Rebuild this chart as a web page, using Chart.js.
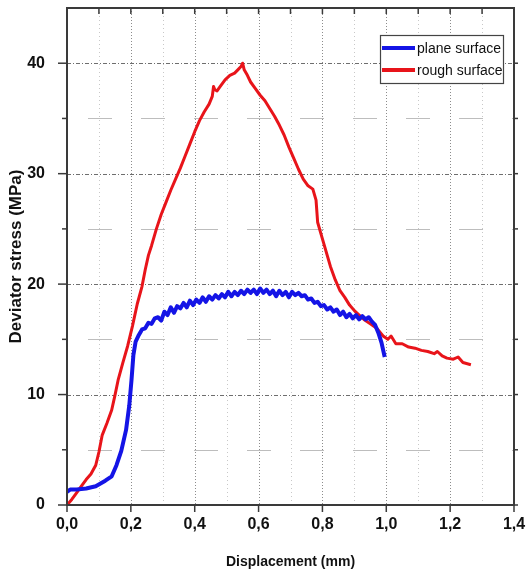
<!DOCTYPE html>
<html>
<head>
<meta charset="utf-8">
<script src="https://cdn.jsdelivr.net/npm/chart.js@4.4.0/dist/chart.umd.min.js"></script>
<style>
  html, body { margin: 0; padding: 0; background: #fff; }
</style>
</head>
<body>
<canvas id="stressChart" width="531" height="577"></canvas>
<script>
// Deviator stress vs displacement, two surface conditions

var seriesNames = ["plane surface", "rough surface"];

// plane surface
var planeX = [0.000, 0.010, 0.030, 0.060, 0.090, 0.120, 0.140, 0.155, 0.170, 0.185,
              0.195, 0.202, 0.208, 0.215, 0.225, 0.235, 0.245, 0.255, 0.265, 0.275,
              0.285, 0.295, 0.305, 0.315, 0.325, 0.335, 0.345, 0.355, 0.365, 0.375,
              0.385, 0.395, 0.405, 0.415, 0.425, 0.435, 0.445, 0.455, 0.465, 0.475,
              0.485, 0.495, 0.505, 0.515, 0.525, 0.535, 0.545, 0.555, 0.565, 0.575,
              0.585, 0.595, 0.605, 0.615, 0.625, 0.635, 0.645, 0.655, 0.665, 0.675,
              0.685, 0.695, 0.705, 0.715, 0.725, 0.735, 0.745, 0.755, 0.765, 0.775,
              0.785, 0.795, 0.805, 0.815, 0.825, 0.835, 0.845, 0.855, 0.865, 0.875,
              0.885, 0.895, 0.905, 0.915, 0.925, 0.935, 0.945, 0.955, 0.965, 0.975,
              0.985, 0.995];
var planeY = [1.2, 1.4, 1.4, 1.5, 1.7, 2.2, 2.6, 3.6, 4.9, 6.8,
              9.0, 11.3, 13.6, 14.8, 15.4, 15.9, 16.0, 16.5, 16.4, 16.9,
              17.0, 16.7, 17.5, 17.2, 17.9, 17.4, 18.0, 17.8, 18.3, 17.9,
              18.5, 18.1, 18.6, 18.3, 18.8, 18.4, 18.9, 18.6, 19.0, 18.7,
              19.1, 18.8, 19.3, 18.9, 19.3, 19.0, 19.4, 19.1, 19.5, 19.2,
              19.5, 19.1, 19.6, 19.2, 19.5, 19.1, 19.4, 18.9, 19.4, 19.0,
              19.3, 18.8, 19.3, 19.0, 19.2, 18.9, 19.0, 18.6, 18.7, 18.3,
              18.4, 18.0, 18.1, 17.7, 17.9, 17.5, 17.7, 17.2, 17.5, 17.0,
              17.3, 16.9, 17.2, 16.8, 17.1, 16.8, 17.0, 16.6, 16.3, 15.6,
              14.7, 13.4];

// rough surface
var roughX = [0.000, 0.015, 0.030, 0.045, 0.060, 0.075, 0.090, 0.100, 0.110, 0.125,
              0.140, 0.150, 0.160, 0.175, 0.190, 0.205, 0.220, 0.235, 0.245, 0.255,
              0.265, 0.280, 0.295, 0.310, 0.325, 0.340, 0.355, 0.370, 0.385, 0.400,
              0.415, 0.430, 0.445, 0.455, 0.459, 0.463, 0.470, 0.480, 0.495, 0.510,
              0.525, 0.535, 0.545, 0.550, 0.555, 0.565, 0.575, 0.590, 0.605, 0.620,
              0.635, 0.650, 0.665, 0.680, 0.695, 0.710, 0.725, 0.740, 0.755, 0.770,
              0.780, 0.785, 0.795, 0.805, 0.815, 0.825, 0.840, 0.855, 0.870, 0.885,
              0.900, 0.915, 0.930, 0.950, 0.970, 0.990, 1.005, 1.015, 1.030, 1.050,
              1.070, 1.090, 1.110, 1.130, 1.150, 1.160, 1.175, 1.190, 1.210, 1.225,
              1.240, 1.265];
var roughY = [0.0, 0.5, 1.1, 1.7, 2.3, 2.8, 3.6, 4.8, 6.3, 7.4,
              8.6, 9.9, 11.3, 12.9, 14.4, 16.2, 18.2, 19.8, 21.3, 22.6,
              23.5, 25.0, 26.3, 27.4, 28.5, 29.5, 30.5, 31.6, 32.7, 33.8,
              34.8, 35.6, 36.3, 37.0, 37.9, 37.6, 37.5, 37.9, 38.5, 38.9,
              39.1, 39.4, 39.7, 40.0, 39.4, 38.9, 38.3, 37.7, 37.1, 36.6,
              35.9, 35.2, 34.4, 33.5, 32.4, 31.4, 30.4, 29.5, 28.9, 28.6,
              27.6, 25.6, 24.6, 23.6, 22.6, 21.6, 20.4, 19.4, 18.8, 18.1,
              17.6, 17.2, 16.8, 16.4, 16.0, 15.3, 15.0, 15.3, 14.6, 14.6,
              14.3, 14.2, 14.0, 13.9, 13.7, 13.9, 13.5, 13.3, 13.2, 13.4,
              12.9, 12.7];

// axis ranges and labelled ticks
var xMin = 0, xMax = 1.4, xStep = 0.1;
var yMin = 0, yMax = 45, yStep = 5;
var xLabelTicks = [0, 0.2, 0.4, 0.6, 0.8, 1.0, 1.2, 1.4];
var yLabelTicks = [0, 10, 20, 30, 40];

var sansFont = '"Liberation Sans", Arial, sans-serif';

function toPoints(xs, ys) {
    return xs.map(function (x, i) { return { x: x, y: ys[i] }; });
}

function isLabelled(list, value) {
    return list.some(function (v) { return Math.abs(v - value) < 1e-6; });
}

function strokeLine(ctx, x1, y1, x2, y2) {
    ctx.beginPath();
    ctx.moveTo(x1, y1);
    ctx.lineTo(x2, y2);
    ctx.stroke();
}

// grid, frame, tick marks and the boxed legend
var plotDecor = {
    id: "plotDecor",
    beforeDatasetsDraw: function (chart) {
        var ctx = chart.ctx, a = chart.chartArea;
        var xs = chart.scales.x, ys = chart.scales.y;
        ctx.save();
        ctx.lineWidth = 1;

        // vertical dotted lines every 0.1
        for (var i = 1; i < 14; i++) {
            var px = Math.round(xs.getPixelForValue(i / 10)) + 0.5;
            var major = i % 2 === 0;
            ctx.strokeStyle = major ? "#8c8c8c" : "#c8c8c8";
            ctx.setLineDash(major ? [1, 2] : [1, 3]);
            strokeLine(ctx, px, a.top, px, a.bottom);
        }

        // horizontal lines: dash-dot at tens, long dashes at fives
        for (var v = 5; v < yMax; v += 5) {
            var py = Math.round(ys.getPixelForValue(v)) + 0.5;
            if (v % 10 === 0) {
                ctx.strokeStyle = "#6e6e6e";
                ctx.setLineDash([4, 2, 1, 2]);
                ctx.lineDashOffset = 0;
            } else {
                ctx.strokeStyle = "#bdbdbd";
                ctx.setLineDash([24, 29]);
                ctx.lineDashOffset = 32;
            }
            strokeLine(ctx, a.left, py, a.right, py);
        }
        ctx.restore();
    },
    afterDatasetsDraw: function (chart) {
        var ctx = chart.ctx, a = chart.chartArea;
        var xs = chart.scales.x, ys = chart.scales.y;
        ctx.save();
        ctx.setLineDash([]);
        ctx.strokeStyle = "#3a3a3a";

        // tick marks
        ctx.lineWidth = 1.5;
        for (var i = 0; i <= 14; i++) {
            var px = xs.getPixelForValue(i / 10);
            if (i % 2 === 0) strokeLine(ctx, px, a.bottom, px, a.bottom + 7);
            strokeLine(ctx, px, a.top, px, a.top + 6);
        }
        for (var v = 0; v < yMax; v += 5) {
            var py = ys.getPixelForValue(v);
            var len = v % 10 === 0 ? 9 : 5;
            strokeLine(ctx, a.left - len, py, a.left, py);
            strokeLine(ctx, a.right, py, a.right + 4, py);
        }

        // frame
        ctx.lineWidth = 2;
        ctx.strokeRect(a.left, a.top, a.right - a.left, a.bottom - a.top);
        ctx.restore();
    },
    afterDraw: function (chart) {
        var ctx = chart.ctx, a = chart.chartArea;
        var bx = a.right - 134, by = a.top + 27, bw = 123, bh = 48;
        ctx.save();
        ctx.fillStyle = "#ffffff";
        ctx.fillRect(bx, by, bw, bh);
        ctx.strokeStyle = "#444444";
        ctx.lineWidth = 1.2;
        ctx.strokeRect(bx + 0.5, by + 0.5, bw, bh);

        ctx.font = "14px " + sansFont;
        ctx.textBaseline = "middle";
        chart.data.datasets.forEach(function (ds, k) {
            var ry = by + 13 + k * 22;
            ctx.strokeStyle = ds.borderColor;
            ctx.lineWidth = 4;
            strokeLine(ctx, bx + 2, ry, bx + 35, ry);
            ctx.fillStyle = "#111111";
            ctx.fillText(ds.label, bx + 37, ry + 1);
        });
        ctx.restore();
    }
};

var ctx = document.getElementById("stressChart").getContext("2d");

var stressChart = new Chart(ctx, {
    type: "line",
    data: {
        datasets: [
            {
                label: seriesNames[0],
                data: toPoints(planeX, planeY),
                borderColor: "#1414e6",
                borderWidth: 4,
                borderJoinStyle: "round",
                pointRadius: 0,
                tension: 0
            },
            {
                label: seriesNames[1],
                data: toPoints(roughX, roughY),
                borderColor: "#e8141a",
                borderWidth: 3,
                borderJoinStyle: "round",
                pointRadius: 0,
                tension: 0
            }
        ]
    },
    options: {
        responsive: false,
        animation: false,
        layout: { padding: { top: 8, right: 17, left: 0, bottom: 0 } },
        plugins: {
            legend: { display: false },
            tooltip: { enabled: false }
        },
        scales: {
            x: {
                type: "linear",
                min: xMin,
                max: xMax,
                grid: { display: false },
                border: { display: false },
                ticks: {
                    stepSize: xStep,
                    autoSkip: false,
                    maxRotation: 0,
                    padding: 2,
                    color: "#111111",
                    font: { family: sansFont, size: 16, weight: "bold" },
                    callback: function (value) {
                        if (!isLabelled(xLabelTicks, value)) return "";
                        return value.toFixed(1).replace(".", ",");
                    }
                },
                title: {
                    display: true,
                    text: "Displacement (mm)",
                    color: "#111111",
                    font: { family: sansFont, size: 14, weight: "bold" },
                    padding: { top: 0, bottom: 6 }
                },
                afterFit: function (scale) {
                    scale.height = 72;
                    scale.paddingLeft = 0;
                    scale.paddingRight = 0;
                }
            },
            y: {
                min: yMin,
                max: yMax,
                grid: { display: false },
                border: { display: false },
                ticks: {
                    stepSize: yStep,
                    autoSkip: false,
                    padding: 14,
                    color: "#111111",
                    font: { family: sansFont, size: 16, weight: "bold" },
                    callback: function (value) {
                        return isLabelled(yLabelTicks, value) ? String(value) : "";
                    }
                },
                title: {
                    display: true,
                    text: "Deviator stress (MPa)",
                    color: "#111111",
                    font: { family: sansFont, size: 17, weight: "bold" },
                    padding: { top: 6, bottom: 0 }
                },
                afterFit: function (scale) {
                    scale.width = 67;
                    scale.paddingTop = 0;
                    scale.paddingBottom = 0;
                }
            }
        }
    },
    plugins: [plotDecor]
});
</script>
</body>
</html>
